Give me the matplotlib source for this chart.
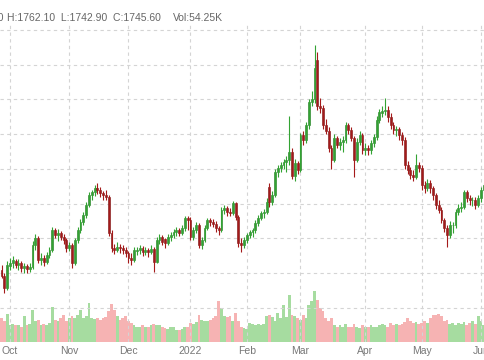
import matplotlib
matplotlib.use("Agg")
import matplotlib.pyplot as plt
import numpy as np

plt.rcParams['font.family'] = ['Liberation Sans', 'DejaVu Sans']

# daily OHLC (late Sep 2021 - early Jun 2022)
opens = [1755, 1746, 1729, 1761, 1764, 1768, 1762, 1765, 1758, 1760,
         1756, 1759, 1791, 1800, 1769, 1772, 1766, 1776, 1783, 1812,
         1805, 1808, 1802, 1798, 1786, 1790, 1765, 1798, 1812, 1824,
         1834, 1848, 1863, 1867, 1873, 1870, 1865, 1863, 1860, 1808,
         1786, 1783, 1788, 1786, 1783, 1779, 1772, 1769, 1782, 1784,
         1786, 1780, 1783, 1780, 1785, 1766, 1798, 1802, 1799, 1794,
         1802, 1805, 1809, 1812, 1808, 1815, 1830, 1826, 1802, 1812,
         1819, 1791, 1798, 1815, 1827, 1824, 1821, 1815, 1812, 1841,
         1844, 1838, 1837, 1851, 1831, 1794, 1791, 1798, 1805, 1809,
         1812, 1822, 1830, 1837, 1838, 1874, 1852, 1863, 1896, 1901,
         1906, 1910, 1913, 1924, 1890, 1908, 1899, 1949, 1942, 1963,
         1996, 2000, 2057, 1990, 1988, 1963, 1955, 1930, 1913, 1945,
         1935, 1939, 1942, 1963, 1956, 1945, 1913, 1939, 1949, 1927,
         1930, 1927, 1937, 1946, 1971, 1980, 1984, 1985, 1975, 1963,
         1956, 1957, 1949, 1942, 1906, 1899, 1891, 1889, 1906, 1901,
         1877, 1873, 1880, 1873, 1863, 1848, 1841, 1827, 1815, 1805,
         1819, 1820, 1838, 1844, 1845, 1867, 1858, 1855, 1856, 1848,
         1858, 1870]
highs = [1762.1, 1750, 1767, 1772, 1775, 1771, 1770, 1768, 1764, 1763,
         1764, 1796, 1806, 1803, 1779, 1776, 1780, 1788, 1816, 1815,
         1813, 1811, 1806, 1800, 1795, 1793, 1800, 1816, 1828, 1838,
         1852, 1867, 1870, 1877, 1880, 1874, 1868, 1870, 1863, 1812,
         1792, 1795, 1792, 1790, 1788, 1782, 1779, 1787, 1788, 1790,
         1789, 1787, 1786, 1790, 1788, 1802, 1806, 1805, 1800, 1806,
         1810, 1814, 1816, 1815, 1820, 1833, 1832, 1831, 1816, 1824,
         1822, 1802, 1819, 1830, 1830, 1828, 1825, 1818, 1845, 1848,
         1847, 1844, 1854, 1853, 1834, 1800, 1802, 1808, 1812, 1815,
         1826, 1834, 1840, 1842, 1858, 1880, 1868, 1900, 1905, 1910,
         1915, 1918, 1976, 1930, 1915, 1912, 1952, 1955, 1968, 2000,
         2012, 2078.8, 2068, 2002, 1992, 1972, 1960, 1934, 1950, 1948,
         1944, 1948, 1968, 1966, 1960, 1948, 1944, 1955, 1952, 1938,
         1934, 1942, 1950, 1976, 1986, 1990, 2002, 1990, 1980, 1968,
         1962, 1960, 1953, 1946, 1912, 1903, 1898, 1922, 1910, 1905,
         1882, 1886, 1884, 1876, 1866, 1856, 1845, 1830, 1820, 1825,
         1824, 1842, 1850, 1853, 1870, 1870, 1862, 1860, 1859, 1862,
         1874, 1880]
lows = [1742.9, 1722, 1726, 1755, 1758, 1757, 1754, 1752, 1750, 1751,
        1752, 1756, 1784, 1765, 1762, 1760, 1763, 1772, 1780, 1800,
        1797, 1798, 1792, 1780, 1782, 1758, 1762, 1794, 1808, 1820,
        1830, 1845, 1856, 1861, 1864, 1860, 1856, 1855, 1803, 1781,
        1777, 1780, 1779, 1778, 1774, 1765, 1762, 1766, 1776, 1778,
        1775, 1776, 1774, 1777, 1752, 1764, 1792, 1790, 1786, 1790,
        1797, 1800, 1803, 1803, 1805, 1811, 1812, 1798, 1798, 1808,
        1786, 1785, 1795, 1812, 1818, 1816, 1810, 1805, 1810, 1835,
        1832, 1832, 1834, 1826, 1788, 1780, 1786, 1794, 1800, 1802,
        1808, 1818, 1826, 1830, 1835, 1845, 1848, 1860, 1888, 1895,
        1900, 1896, 1905, 1885, 1882, 1893, 1895, 1935, 1938, 1958,
        1990, 1995, 1985, 1980, 1958, 1950, 1925, 1900, 1910, 1930,
        1928, 1925, 1938, 1950, 1940, 1889, 1910, 1934, 1922, 1920,
        1920, 1922, 1932, 1942, 1966, 1975, 1978, 1968, 1958, 1950,
        1948, 1942, 1935, 1900, 1893, 1885, 1882, 1885, 1895, 1870,
        1865, 1868, 1866, 1856, 1842, 1836, 1822, 1810, 1788, 1800,
        1808, 1815, 1834, 1838, 1842, 1852, 1848, 1846, 1842, 1845,
        1852, 1865]
closes = [1745.6, 1729, 1762, 1765, 1769, 1762, 1765, 1758, 1760, 1756,
          1759, 1791, 1801, 1769, 1772, 1766, 1776, 1783, 1812, 1805,
          1808, 1802, 1798, 1786, 1791, 1765, 1798, 1812, 1824, 1834,
          1848, 1863, 1867, 1873, 1870, 1865, 1863, 1860, 1808, 1786,
          1783, 1788, 1786, 1783, 1779, 1772, 1769, 1783, 1784, 1786,
          1780, 1783, 1780, 1785, 1766, 1798, 1802, 1795, 1794, 1802,
          1805, 1809, 1812, 1808, 1815, 1830, 1826, 1802, 1812, 1819,
          1791, 1798, 1815, 1827, 1824, 1821, 1815, 1812, 1841, 1844,
          1838, 1837, 1851, 1831, 1794, 1791, 1798, 1805, 1809, 1812,
          1822, 1830, 1837, 1838, 1853, 1852, 1863, 1896, 1901, 1906,
          1910, 1913, 1924, 1890, 1908, 1899, 1949, 1942, 1963, 1996,
          2000, 2045, 1990, 1988, 1963, 1955, 1930, 1913, 1945, 1935,
          1939, 1942, 1963, 1956, 1945, 1913, 1939, 1949, 1927, 1930,
          1927, 1937, 1946, 1971, 1982, 1984, 1985, 1975, 1963, 1956,
          1957, 1949, 1942, 1906, 1899, 1891, 1889, 1906, 1901, 1877,
          1873, 1880, 1873, 1863, 1848, 1841, 1827, 1815, 1805, 1819,
          1820, 1838, 1844, 1845, 1867, 1858, 1855, 1856, 1848, 1858,
          1870, 1877]
volumes = [54.25, 47, 63, 39, 41, 38, 39, 35, 58, 39,
           41, 73, 47, 50, 39, 41, 38, 43, 78, 50,
           47, 54, 62, 47, 54, 58, 54, 62, 73, 54,
           58, 88, 54, 53, 54, 50, 54, 56, 69, 86,
           73, 58, 50, 54, 58, 47, 43, 39, 33, 35,
           39, 33, 35, 38, 41, 39, 38, 33, 32, 30,
           35, 33, 28, 26, 30, 33, 35, 43, 41, 45,
           60, 50, 47, 48, 50, 54, 58, 92, 77, 58,
           56, 58, 47, 66, 48, 35, 32, 30, 43, 41,
           39, 41, 38, 41, 58, 60, 56, 47, 66, 54,
           83, 56, 107, 60, 58, 54, 50, 62, 54, 84,
           92, 115, 96, 77, 69, 54, 47, 54, 38, 35,
           38, 35, 41, 35, 33, 41, 35, 32, 39, 35,
           33, 38, 33, 35, 39, 41, 38, 35, 43, 39,
           41, 38, 41, 45, 54, 47, 43, 45, 41, 43,
           47, 43, 54, 62, 60, 63, 58, 47, 50, 41,
           43, 39, 43, 41, 45, 39, 43, 47, 41, 58,
           47, 39]

month_idx = [3, 24, 45, 67, 87, 106, 129, 149, 170]
month_labels = ['Oct', 'Nov', 'Dec', '2022', 'Feb', 'Mar', 'Apr', 'May', 'Jun']

o = np.array(opens)
h = np.array(highs)
l = np.array(lows)
c = np.array(closes)
v = np.array(volumes)
x = np.arange(len(c))
up = c >= o

fig = plt.figure(figsize=(4.85, 3.6), dpi=100)
ax = fig.add_axes([0, 18 / 360, 1, 320 / 360])
axv = ax.twinx()

# volume bars at the bottom
vol_col = np.where(up, '#a6dca0', '#f6b3b3')
axv.bar(x, v, width=1.0, color=vol_col, linewidth=0)
axv.set_ylim(0, 723)
axv.axis('off')

ax.set_zorder(axv.get_zorder() + 1)
ax.patch.set_visible(False)

# candles
up_col, dn_col = '#33a333', '#a41a1a'
cols = np.where(up, up_col, dn_col)
ax.vlines(x, l, h, colors=cols, linewidth=0.8)
body = np.maximum(np.abs(c - o), 0.8)
ax.bar(x, body, bottom=np.minimum(o, c), width=0.66, color=cols,
       edgecolor=np.where(up, '#1f7d1f', '#7c1010'), linewidth=0.4)

ax.set_xlim(-0.546, 171.45)
ax.set_ylim(1651, 2111.5)
ax.set_yticks(np.arange(1700, 2101, 50))
ax.set_xticks(month_idx, month_labels)
ax.tick_params(axis='x', length=0, pad=3, labelsize=7.5, labelcolor='#777777')
ax.tick_params(axis='y', length=0, labelleft=False)
ax.grid(True, color='#d4d4d4', linestyle=(0, (3, 3)), linewidth=0.8)
ax.set_axisbelow(True)
for s in ax.spines.values():
    s.set_visible(False)

# header (partly cut off on the left)
hy = 1 - 18 / 360
fig.text(4 / 485, hy, 'O:1755.00', ha='right', va='center', fontsize=7.5, color='#666666')
fig.text(7 / 485, hy, 'H:1762.10  L:1742.90  C:1745.60', ha='left', va='center',
         fontsize=7.5, color='#666666')
fig.text(173 / 485, hy, 'Vol:54.25K', ha='left', va='center', fontsize=7.5, color='#666666')

fig.savefig('out.png', dpi=100)
